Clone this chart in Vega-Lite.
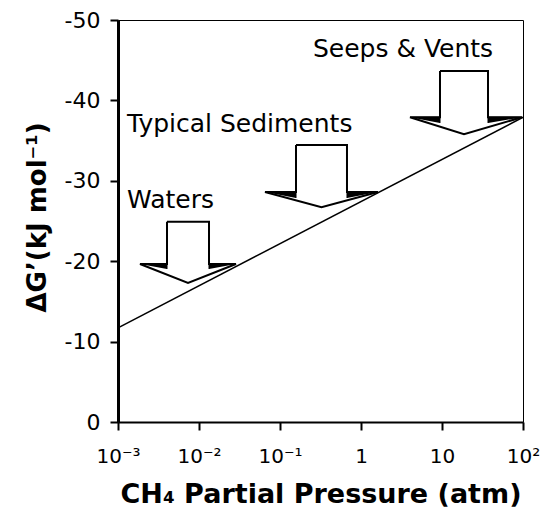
{
  "$schema": "https://vega.github.io/schema/vega-lite/v6.json",
  "autosize": "none",
  "width": 405,
  "height": 402,
  "padding": {"left": 118, "top": 20, "right": 20, "bottom": 90},
  "background": "white",
  "config": {
    "view": {"stroke": "black", "strokeWidth": 1},
    "axis": {"labelFont": "DejaVu Sans", "titleFont": "DejaVu Sans", "labelColor": "black", "titleColor": "black", "domainColor": "black", "tickColor": "black", "grid": false}
  },
  "datasets": {
    "line": [{"p": 0.001, "g": -11.7}, {"p": 100, "g": -37.9}],
    "arrows": [
      {"arrow": "Waters", "i": 0, "p": 0.004027, "g": -24.9},
      {"arrow": "Waters", "i": 1, "p": 0.01329, "g": -24.9},
      {"arrow": "Waters", "i": 2, "p": 0.01329, "g": -19.65},
      {"arrow": "Waters", "i": 3, "p": 0.02862, "g": -19.65},
      {"arrow": "Waters", "i": 4, "p": 0.007314, "g": -17.3},
      {"arrow": "Waters", "i": 5, "p": 0.001869, "g": -19.65},
      {"arrow": "Waters", "i": 6, "p": 0.004027, "g": -19.65},
      {"arrow": "Waters", "i": 7, "p": 0.004027, "g": -24.9},
      {"arrow": "Sediments", "i": 0, "p": 0.1576, "g": -34.45},
      {"arrow": "Sediments", "i": 1, "p": 0.6714, "g": -34.45},
      {"arrow": "Sediments", "i": 2, "p": 0.6714, "g": -28.6},
      {"arrow": "Sediments", "i": 3, "p": 1.6215, "g": -28.6},
      {"arrow": "Sediments", "i": 4, "p": 0.3253, "g": -26.7},
      {"arrow": "Sediments", "i": 5, "p": 0.06529, "g": -28.6},
      {"arrow": "Sediments", "i": 6, "p": 0.1576, "g": -28.6},
      {"arrow": "Sediments", "i": 7, "p": 0.1576, "g": -34.45},
      {"arrow": "Seeps", "i": 0, "p": 9.447, "g": -43.65},
      {"arrow": "Seeps", "i": 1, "p": 36.98, "g": -43.65},
      {"arrow": "Seeps", "i": 2, "p": 36.98, "g": -37.9},
      {"arrow": "Seeps", "i": 3, "p": 97.2, "g": -37.9},
      {"arrow": "Seeps", "i": 4, "p": 18.69, "g": -35.8},
      {"arrow": "Seeps", "i": 5, "p": 4.027, "g": -37.9},
      {"arrow": "Seeps", "i": 6, "p": 9.447, "g": -37.9},
      {"arrow": "Seeps", "i": 7, "p": 9.447, "g": -43.65}
    ],
    "wedges": [
      {"w": "WL", "i": 0, "p": 0.001869, "g": -19.65},
      {"w": "WL", "i": 1, "p": 0.004027, "g": -19.65},
      {"w": "WL", "i": 2, "p": 0.004027, "g": -19.03},
      {"w": "WR", "i": 0, "p": 0.02862, "g": -19.65},
      {"w": "WR", "i": 1, "p": 0.01329, "g": -19.65},
      {"w": "WR", "i": 2, "p": 0.01329, "g": -19.03},
      {"w": "SL", "i": 0, "p": 0.06529, "g": -28.6},
      {"w": "SL", "i": 1, "p": 0.1576, "g": -28.6},
      {"w": "SL", "i": 2, "p": 0.1576, "g": -27.86},
      {"w": "SR", "i": 0, "p": 1.6215, "g": -28.6},
      {"w": "SR", "i": 1, "p": 0.6714, "g": -28.6},
      {"w": "SR", "i": 2, "p": 0.6714, "g": -27.86},
      {"w": "VL", "i": 0, "p": 4.027, "g": -37.9},
      {"w": "VL", "i": 1, "p": 9.447, "g": -37.9},
      {"w": "VL", "i": 2, "p": 9.447, "g": -37.19},
      {"w": "VR", "i": 0, "p": 97.2, "g": -37.9},
      {"w": "VR", "i": 1, "p": 36.98, "g": -37.9},
      {"w": "VR", "i": 2, "p": 36.98, "g": -37.19}
    ],
    "labels": [
      {"text": "Waters", "p": 0.001292, "g": -26.6},
      {"text": "Typical Sediments", "p": 0.001292, "g": -36.07},
      {"text": "Seeps & Vents", "p": 0.2553, "g": -45.4}
    ]
  },
  "encoding": {
    "x": {
      "field": "p", "type": "quantitative",
      "scale": {"type": "log", "domain": [0.001, 100], "nice": false},
      "axis": {
        "title": "CH₄ Partial Pressure (atm)",
        "values": [0.001, 0.01, 0.1, 1, 10, 100],
        "labelExpr": "datum.value < 0.005 ? '10⁻³' : datum.value < 0.05 ? '10⁻²' : datum.value < 0.5 ? '10⁻¹' : datum.value < 5 ? '1' : datum.value < 50 ? '10' : '10²'",
        "labelFontSize": 20, "labelBaseline": "alphabetic", "labelPadding": 32,
        "labelFlush": false, "labelOverlap": false, "labelBound": false,
        "tickSize": 8, "tickWidth": 2, "domainWidth": 2,
        "titleFontSize": 27, "titleFontWeight": "bold", "titleBaseline": "alphabetic", "titleY": 80
      }
    },
    "y": {
      "field": "g", "type": "quantitative",
      "scale": {"domain": [0, -50], "nice": false},
      "axis": {
        "title": "ΔG’(kJ mol⁻¹)",
        "values": [0, -10, -20, -30, -40, -50],
        "labelExpr": "'' + datum.value",
        "labelFontSize": 22, "labelPadding": 10,
        "tickSize": 8, "tickWidth": 2, "domainWidth": 3,
        "titleFontSize": 26, "titleFontWeight": "bold", "titleBaseline": "alphabetic", "titleAngle": 270,
        "titleAlign": "center", "titleX": -73, "titleY": 197
      }
    }
  },
  "layer": [
    {"data": {"name": "line"}, "mark": {"type": "line", "color": "black", "strokeWidth": 1.5}},
    {"data": {"name": "arrows"}, "mark": {"type": "line", "color": "black", "strokeWidth": 2, "strokeJoin": "miter"},
     "encoding": {"detail": {"field": "arrow"}, "order": {"field": "i", "type": "quantitative"}}},
    {"data": {"name": "wedges"}, "mark": {"type": "line", "color": "black", "fill": "black", "strokeWidth": 1},
     "encoding": {"detail": {"field": "w"}, "order": {"field": "i", "type": "quantitative"}}},
    {"data": {"name": "labels"}, "mark": {"type": "text", "align": "left", "baseline": "alphabetic", "font": "DejaVu Sans", "fontSize": 25, "color": "black"},
     "encoding": {"text": {"field": "text"}}}
  ]
}
